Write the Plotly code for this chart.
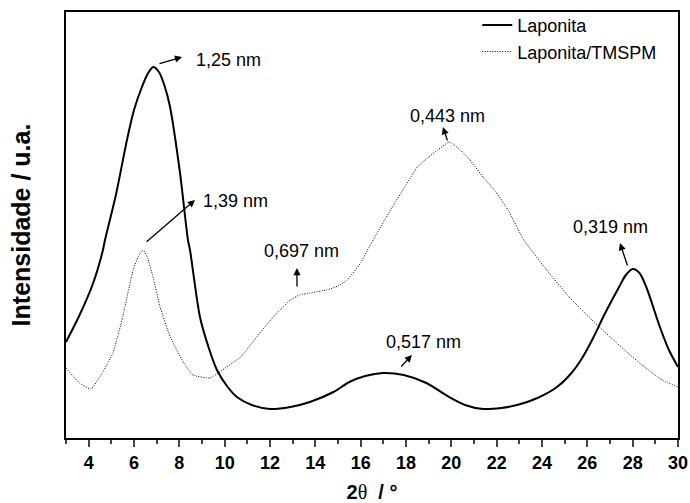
import plotly.graph_objects as go

# Laponita (solid) – 2theta (deg) and intensity (a.u.)
lap_x = [3.0, 3.6, 4.2, 4.63, 4.72, 5.2, 5.69, 6.0, 6.35, 6.6, 6.85, 7.1, 7.35, 7.59,
         8.03, 8.38, 8.47, 8.91, 9.3, 9.66, 10.1, 10.54, 11.2, 12.0, 12.9, 13.76, 14.8,
         15.5, 16.2, 16.98, 17.9, 18.9, 19.9, 20.6, 21.4, 22.2, 22.9, 23.8, 24.66, 25.3,
         25.8, 26.3, 26.7, 27.4, 27.7, 28.0, 28.3, 28.6, 29.2, 29.6, 30.0]
lap_y = [96, 123, 155, 188, 198, 243, 298, 328, 351, 364, 371, 366, 352, 331,
         265, 198, 188, 121, 90, 68, 52, 41, 33, 29, 31, 36, 46,
         56, 62, 65, 63, 55, 41, 33, 29, 30, 33, 40, 51, 65,
         81, 102, 121, 151, 163, 169, 165, 151, 111, 88, 71]

# Laponita/TMSPM (dotted)
tms_x = [3.0, 3.3, 3.6, 4.1, 4.6, 5.07, 5.5, 5.96, 6.2, 6.4, 6.6, 6.84, 7.15, 7.6,
         8.2, 8.6, 9.35, 9.9, 10.7, 11.55, 12.3, 12.9, 13.3, 13.76, 14.5, 15.0, 15.4,
         16.0, 16.3, 16.8, 17.4, 18.0, 18.5, 19.0, 19.4, 19.9, 20.4, 20.82, 21.4, 22.0,
         22.5, 23.2, 24.1, 25.2, 26.2, 27.3, 28.3, 29.3, 30.0]
tms_y = [70, 62, 55, 49, 65, 85, 121, 168, 182, 188, 180, 161, 131, 101,
         75, 63, 60, 68, 81, 105, 125, 138, 143, 145, 148, 152, 158,
         175, 188, 208, 231, 253, 271, 281, 288, 296, 288, 278, 261, 245,
         228, 198, 171, 141, 118, 95, 75, 58, 51]

# Peak labels: text, arrow tail (x, y), arrow head (x, y), text position (x, y)
labels = ["1,25 nm", "1,39 nm", "0,697 nm", "0,443 nm", "0,319 nm", "0,517 nm"]
tail_x = [7.06, 6.49, 13.19, 19.85, 27.79, 17.73]
tail_y = [374, 195, 150, 296, 171, 70]
head_x = [8.12, 8.69, 13.19, 19.63, 27.44, 18.26]
head_y = [381, 238, 170, 311, 195, 83]
text_x = [10.15, 10.46, 13.41, 19.81, 27.0, 18.79]
text_y = [378, 237, 187, 322, 211, 96]

fig = go.Figure()
fig.add_trace(go.Scatter(x=lap_x, y=lap_y, mode="lines", name="Laponita",
                         line=dict(color="black", width=2, shape="spline", smoothing=0.8)))
fig.add_trace(go.Scatter(x=tms_x, y=tms_y, mode="lines", name="Laponita/TMSPM",
                         line=dict(color="black", width=1, dash="1px,1.5px", shape="spline", smoothing=0.4)))

for i in range(len(labels)):
    fig.add_annotation(x=head_x[i], y=head_y[i], ax=tail_x[i], ay=tail_y[i],
                       axref="x", ayref="y", xref="x", yref="y", text="",
                       showarrow=True, arrowhead=2, arrowsize=1.1, arrowwidth=1.3,
                       arrowcolor="black")
    fig.add_annotation(x=text_x[i], y=text_y[i], xref="x", yref="y", text=labels[i],
                       showarrow=False, font=dict(family="Liberation Sans, Arial", size=18,
                                                  color="black"))

fig.update_layout(
    width=690, height=503,
    margin=dict(l=66, r=12, t=12, b=65, autoexpand=False),
    paper_bgcolor="white", plot_bgcolor="white",
    font=dict(family="Liberation Sans, Arial", color="black"),
    legend=dict(x=0.672, y=1.012, xanchor="left", yanchor="top",
                font=dict(size=18), bgcolor="rgba(0,0,0,0)", tracegroupgap=0),
    showlegend=True,
)
fig.update_xaxes(range=[3, 30], tick0=4, dtick=2, ticks="outside", ticklen=7, tickwidth=1.5,
                 showline=True, linecolor="black", linewidth=2, mirror=True,
                 showgrid=False, zeroline=False,
                 tickfont=dict(family="Liberation Sans Narrow, Liberation Sans", size=18, weight="bold"),
                 minor=dict(dtick=1, tick0=3, ticks="outside", ticklen=4, tickwidth=1.5, showgrid=False),
                 title=dict(text="<b>2</b><span style='font-family:Liberation Serif'>θ</span><b>  / °</b>",
                            font=dict(size=20), standoff=14))
fig.update_yaxes(range=[0, 426], showticklabels=False, ticks="",
                 showline=True, linecolor="black", linewidth=2, mirror=True,
                 showgrid=False, zeroline=False,
                 title=dict(text="<b>Intensidade / u.a.</b>", font=dict(size=25), standoff=26))

fig.write_html("out.html")
